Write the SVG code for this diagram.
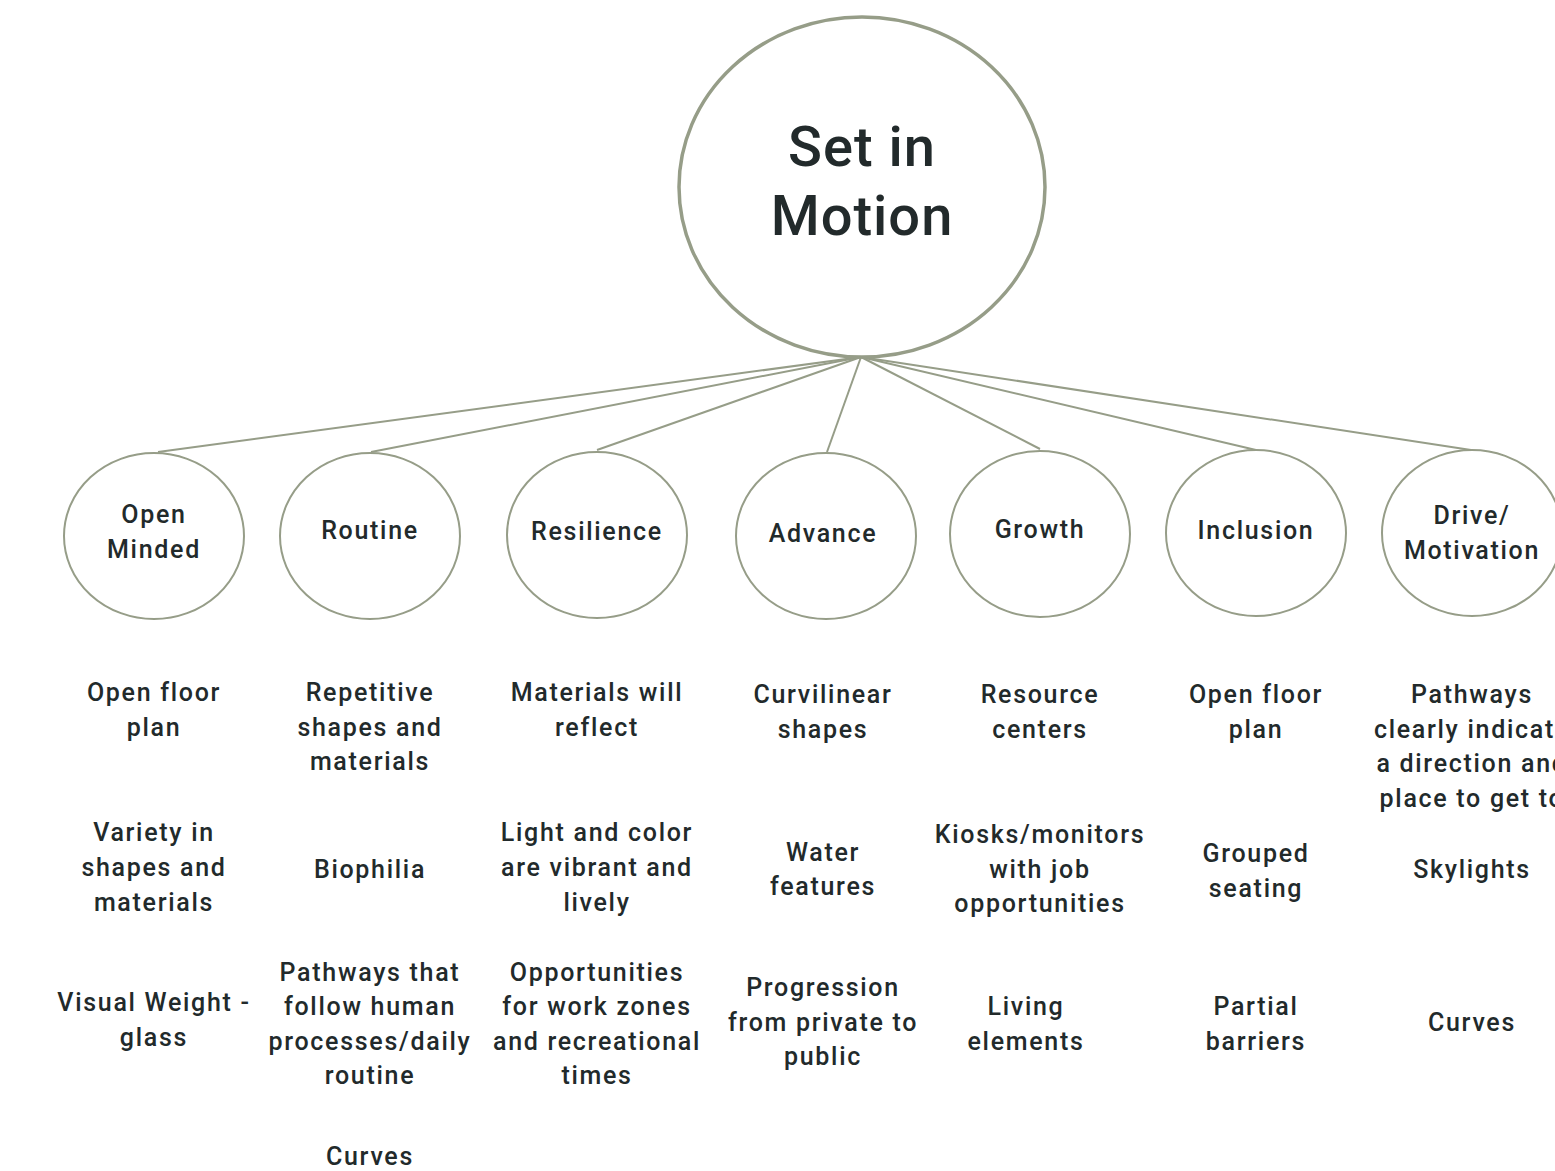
<svg xmlns="http://www.w3.org/2000/svg" width="1555" height="1171" viewBox="0 0 1555 1171">
<style>
.bg{fill:#ffffff}
.main{fill:#ffffff;stroke:#969d88;stroke-width:3.5}
.node{fill:#ffffff;stroke:#969d88;stroke-width:2}
.conn line{stroke:#969d88;stroke-width:2}
text{font-family:Roboto,"Noto Sans","Liberation Sans",sans-serif;font-weight:500;fill:#222a2b;text-anchor:middle}
.t{font-size:25px;letter-spacing:1.7px}
.big{font-size:56px;letter-spacing:1px}
</style>
<rect class="bg" x="0" y="0" width="1555" height="1171"/>
<g id="connectors" class="conn">
<line x1="861" y1="357" x2="158" y2="452"/>
<line x1="861" y1="357" x2="371" y2="452"/>
<line x1="861" y1="357" x2="597" y2="450"/>
<line x1="861" y1="357" x2="827" y2="452"/>
<line x1="861" y1="357" x2="1040" y2="449"/>
<line x1="861" y1="357" x2="1256" y2="450"/>
<line x1="861" y1="357" x2="1471" y2="450"/>
</g>
<g id="root">
<ellipse class="main" cx="862" cy="187" rx="183" ry="170"/>
<text class="big" x="862"><tspan x="862" y="166">Set in</tspan><tspan x="862" y="235">Motion</tspan></text>
</g>
<g id="n-open-minded">
<ellipse class="node" cx="154" cy="536" rx="90" ry="83"/>
<text class="t"><tspan x="154" y="523">Open</tspan><tspan x="154" y="558">Minded</tspan></text>
</g>
<g id="n-routine">
<ellipse class="node" cx="370" cy="536" rx="90" ry="83"/>
<text class="t"><tspan x="370" y="539">Routine</tspan></text>
</g>
<g id="n-resilience">
<ellipse class="node" cx="597" cy="535" rx="90" ry="83"/>
<text class="t"><tspan x="597" y="540">Resilience</tspan></text>
</g>
<g id="n-advance">
<ellipse class="node" cx="826" cy="536" rx="90" ry="83"/>
<text class="t"><tspan x="823" y="542">Advance</tspan></text>
</g>
<g id="n-growth">
<ellipse class="node" cx="1040" cy="534" rx="90" ry="83"/>
<text class="t"><tspan x="1040" y="538">Growth</tspan></text>
</g>
<g id="n-inclusion">
<ellipse class="node" cx="1256" cy="533" rx="90" ry="83"/>
<text class="t"><tspan x="1256" y="539">Inclusion</tspan></text>
</g>
<g id="n-drive">
<ellipse class="node" cx="1472" cy="533" rx="90" ry="83"/>
<text class="t"><tspan x="1472" y="524">Drive/</tspan><tspan x="1472" y="559">Motivation</tspan></text>
</g>
<g id="items">
<text class="t"><tspan x="154" y="701">Open floor</tspan><tspan x="154" y="736">plan</tspan></text>
<text class="t"><tspan x="154" y="841">Variety in</tspan><tspan x="154" y="876">shapes and</tspan><tspan x="154" y="911">materials</tspan></text>
<text class="t"><tspan x="154" y="1011">Visual Weight -</tspan><tspan x="154" y="1046">glass</tspan></text>

<text class="t"><tspan x="370" y="701">Repetitive</tspan><tspan x="370" y="736">shapes and</tspan><tspan x="370" y="770">materials</tspan></text>
<text class="t"><tspan x="370" y="878">Biophilia</tspan></text>
<text class="t"><tspan x="370" y="981">Pathways that</tspan><tspan x="370" y="1015">follow human</tspan><tspan x="370" y="1050">processes/daily</tspan><tspan x="370" y="1084">routine</tspan></text>
<text class="t"><tspan x="370" y="1165">Curves</tspan></text>

<text class="t"><tspan x="597" y="701">Materials will</tspan><tspan x="597" y="736">reflect</tspan></text>
<text class="t"><tspan x="597" y="841">Light and color</tspan><tspan x="597" y="876">are vibrant and</tspan><tspan x="597" y="911">lively</tspan></text>
<text class="t"><tspan x="597" y="981">Opportunities</tspan><tspan x="597" y="1015">for work zones</tspan><tspan x="597" y="1050">and recreational</tspan><tspan x="597" y="1084">times</tspan></text>

<text class="t"><tspan x="823" y="703">Curvilinear</tspan><tspan x="823" y="738">shapes</tspan></text>
<text class="t"><tspan x="823" y="861">Water</tspan><tspan x="823" y="895">features</tspan></text>
<text class="t"><tspan x="823" y="996">Progression</tspan><tspan x="823" y="1031">from private to</tspan><tspan x="823" y="1065">public</tspan></text>

<text class="t"><tspan x="1040" y="703">Resource</tspan><tspan x="1040" y="738">centers</tspan></text>
<text class="t"><tspan x="1040" y="843">Kiosks/monitors</tspan><tspan x="1040" y="878">with job</tspan><tspan x="1040" y="912">opportunities</tspan></text>
<text class="t"><tspan x="1026" y="1015">Living</tspan><tspan x="1026" y="1050">elements</tspan></text>

<text class="t"><tspan x="1256" y="703">Open floor</tspan><tspan x="1256" y="738">plan</tspan></text>
<text class="t"><tspan x="1256" y="862">Grouped</tspan><tspan x="1256" y="897">seating</tspan></text>
<text class="t"><tspan x="1256" y="1015">Partial</tspan><tspan x="1256" y="1050">barriers</tspan></text>

<text class="t"><tspan x="1472" y="703">Pathways</tspan><tspan x="1472" y="738">clearly indicate</tspan><tspan x="1472" y="772">a direction and</tspan><tspan x="1472" y="807">place to get to</tspan></text>
<text class="t"><tspan x="1472" y="878">Skylights</tspan></text>
<text class="t"><tspan x="1472" y="1031">Curves</tspan></text>
</g>
</svg>
